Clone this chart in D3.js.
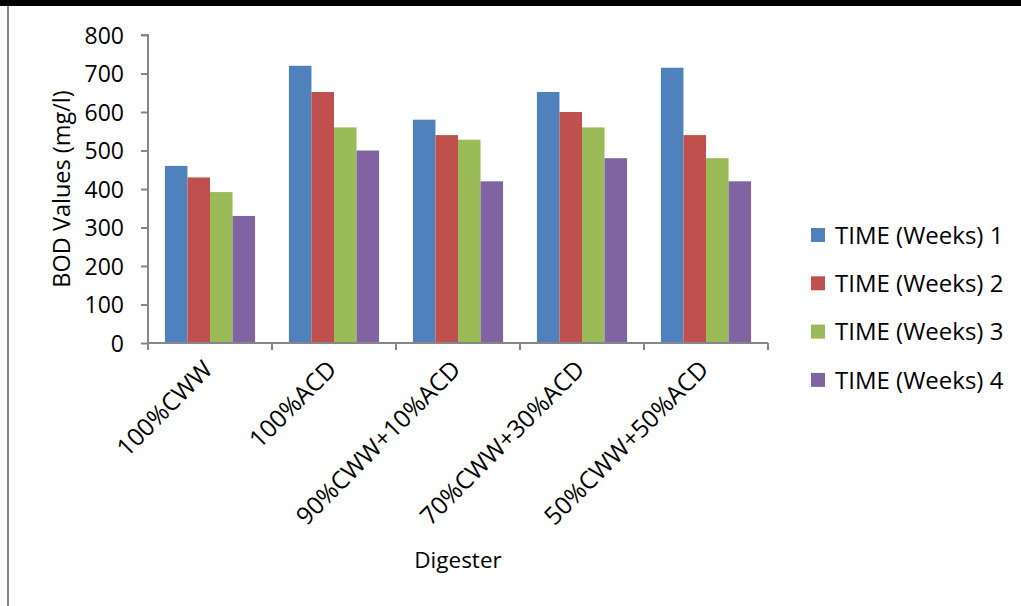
<!DOCTYPE html>
<html>
<head>
<meta charset="utf-8">
<script src="https://cdn.jsdelivr.net/npm/d3@7"></script>
<style>
  html, body { margin: 0; padding: 0; background: #fff; }
  svg { display: block; font-family: "Open Sans", sans-serif; }
  svg text { font-family: "Open Sans", sans-serif; }
</style>
</head>
<body>
<svg id="chart" width="1021" height="606"></svg>
<script>
// Digester groups along the x axis
const categories = ["100%CWW", "100%ACD", "90%CWW+10%ACD", "70%CWW+30%ACD", "50%CWW+50%ACD"];
// Series names (sampling week)
const seriesNames = ["TIME (Weeks) 1", "TIME (Weeks) 2", "TIME (Weeks) 3", "TIME (Weeks) 4"];
// BOD values (mg/l), one array per week, in category order
const week1 = [460, 720, 580, 652, 715];
const week2 = [430, 652, 540, 600, 540];
const week3 = [392, 560, 528, 560, 480];
const week4 = [330, 500, 420, 480, 420];
const yTicks = [0, 100, 200, 300, 400, 500, 600, 700, 800];
const colors = ["#4F81BD", "#C0504D", "#9BBB59", "#8064A2"];

const series = [week1, week2, week3, week4];

const svg = d3.select("#chart");
const axisColor = "#868686";

// frame lines
svg.append("rect").attr("x", 0).attr("y", 0).attr("width", 1021).attr("height", 6).attr("fill", "#000");
svg.append("rect").attr("x", 7).attr("y", 6).attr("width", 2).attr("height", 600).attr("fill", axisColor);

const plot = { left: 148, right: 768, top: 35, bottom: 343 };

const x0 = d3.scaleBand().domain(categories).range([plot.left, plot.right]).paddingInner(0).paddingOuter(0);
// 150% gap: group of 4 bars occupies 4 / 5.5 of each band
const groupW = x0.bandwidth() * 4 / 5.5;
const x1 = d3.scaleBand().domain(d3.range(seriesNames.length)).range([0, groupW]).padding(0);
const y = d3.scaleLinear().domain([0, 800]).range([plot.bottom, plot.top]);

// bars
const g = svg.append("g");
categories.forEach((cat, ci) => {
  const gx = x0(cat) + (x0.bandwidth() - groupW) / 2;
  series.forEach((vals, si) => {
    g.append("rect")
      .attr("x", gx + x1(si))
      .attr("y", y(vals[ci]))
      .attr("width", x1.bandwidth())
      .attr("height", y(0) - y(vals[ci]))
      .attr("fill", colors[si]);
  });
});

// y axis
const yAxis = svg.append("g").attr("transform", `translate(${plot.left},0)`)
  .call(d3.axisLeft(y).tickValues(yTicks).tickSize(7).tickPadding(17).tickFormat(d3.format("d")));
yAxis.attr("font-family", null).attr("font-size", null);
yAxis.select(".domain").attr("stroke", axisColor).attr("stroke-width", 2)
  .attr("d", `M-7,${plot.top}H0V${plot.bottom}`);
yAxis.selectAll(".tick line").attr("stroke", axisColor).attr("stroke-width", 2);
yAxis.selectAll(".tick text").attr("fill", "#000").style("font-size", "23px").attr("dy", "0.36em");

// x axis: ticks at band boundaries
const xAxisG = svg.append("g").attr("transform", `translate(0,${plot.bottom})`);
xAxisG.append("line").attr("x1", plot.left).attr("x2", plot.right)
  .attr("stroke", axisColor).attr("stroke-width", 2);
const boundaries = categories.map(c => x0(c)).concat([plot.right]);
xAxisG.selectAll("line.tk").data(boundaries).enter().append("line")
  .attr("class", "tk")
  .attr("x1", d => d).attr("x2", d => d).attr("y1", 0).attr("y2", 7)
  .attr("stroke", axisColor).attr("stroke-width", 2);

// rotated category labels
xAxisG.selectAll("text.cat").data(categories).enter().append("text")
  .attr("class", "cat")
  .attr("text-anchor", "end")
  .attr("transform", d => `translate(${x0(d) + x0.bandwidth() / 2 + 4},${28}) rotate(-45)`)
  .style("font-size", "24.5px")
  .attr("fill", "#000")
  .text(d => d);

// axis titles
svg.append("text")
  .attr("transform", `translate(70,${(plot.top + plot.bottom) / 2}) rotate(-90)`)
  .attr("text-anchor", "middle")
  .style("font-size", "23.5px")
  .text("BOD Values (mg/l)");

svg.append("text")
  .attr("x", (plot.left + plot.right) / 2)
  .attr("y", 568)
  .attr("text-anchor", "middle")
  .style("font-size", "22.5px")
  .text("Digester");

// legend
const legend = svg.append("g");
seriesNames.forEach((name, i) => {
  const cy = 235 + i * 48.3;
  legend.append("rect").attr("x", 811).attr("y", cy - 7).attr("width", 14).attr("height", 14).attr("fill", colors[i]);
  legend.append("text").attr("x", 835).attr("y", cy).attr("dy", "0.36em")
    .style("font-size", "24px").text(name);
});
</script>
</body>
</html>
